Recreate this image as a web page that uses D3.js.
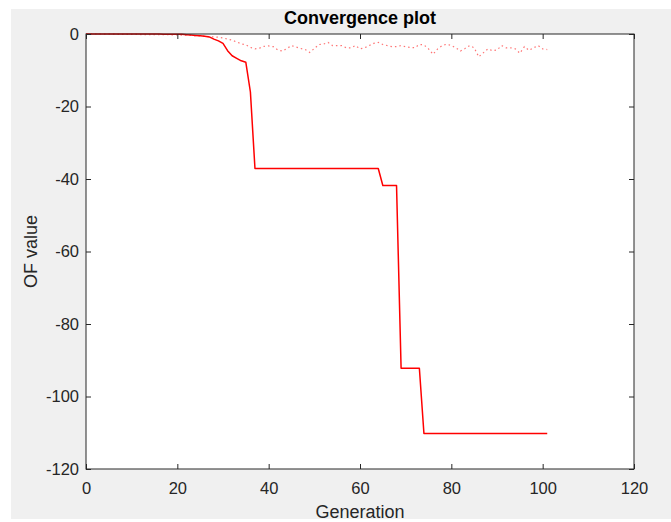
<!DOCTYPE html>
<html>
<head>
<meta charset="utf-8">
<script src="https://cdn.jsdelivr.net/npm/d3@7"></script>
<style>
  body { margin: 0; background: #fff; }
  svg { display: block; font-family: "Liberation Sans", Arial, Helvetica, sans-serif; }
  .tick text { fill: #262626; font-size: 16.5px; }
  .domain { stroke: none; }
  .tick line { stroke: #262626; }
</style>
</head>
<body>
<script>
// figure + axes placement (matlab-like)
var margin = {top: 34, right: 37, bottom: 53, left: 86},
    width = 671 - margin.left - margin.right,
    height = 522 - margin.top - margin.bottom;

// generations 0..101
var generations = d3.range(0, 102);

// best objective value per generation (solid)
var bestOF = [
  0, 0, 0, 0, 0, 0, 0, 0, 0, 0,
  0, 0, 0, 0, 0, 0, 0, -0.05, -0.05, -0.1,
  -0.1, -0.1, -0.2, -0.3, -0.4, -0.5, -0.6, -0.8, -1.4, -1.9,
  -2.6, -4.6, -6.0, -6.7, -7.4, -7.8, -16, -37.1, -37.1, -37.1,
  -37.1, -37.1, -37.1, -37.1, -37.1, -37.1, -37.1, -37.1, -37.1, -37.1,
  -37.1, -37.1, -37.1, -37.1, -37.1, -37.1, -37.1, -37.1, -37.1, -37.1,
  -37.1, -37.1, -37.1, -37.1, -37.1, -41.8, -41.8, -41.8, -41.8, -92.2,
  -92.2, -92.2, -92.2, -92.2, -110.2, -110.2, -110.2, -110.2, -110.2, -110.2,
  -110.2, -110.2, -110.2, -110.2, -110.2, -110.2, -110.2, -110.2, -110.2, -110.2,
  -110.2, -110.2, -110.2, -110.2, -110.2, -110.2, -110.2, -110.2, -110.2, -110.2,
  -110.2, -110.2
];

// mean objective value per generation (dotted)
var meanOF = [
  0, 0, 0, 0, -0.05, -0.05, -0.05, -0.1, -0.1, -0.1,
  -0.1, -0.1, -0.15, -0.15, -0.15, -0.2, -0.2, -0.2, -0.2, -0.25,
  -0.25, -0.3, -0.3, -0.4, -0.5, -0.5, -0.6, -0.7, -0.8, -0.9,
  -1.1, -1.4, -1.7, -2.2, -2.7, -3.0, -3.7, -4.1, -3.9, -3.4,
  -3.3, -3.5, -4.4, -4.7, -4.0, -3.2, -3.6, -4.0, -4.3, -5.1,
  -4.0, -2.9, -2.8, -2.3, -3.2, -3.2, -3.2, -3.8, -3.8, -3.2,
  -4.1, -3.8, -3.2, -2.6, -2.3, -2.9, -3.2, -3.5, -3.5, -3.2,
  -3.5, -3.7, -3.8, -2.9, -3.0, -4.1, -5.6, -4.1, -3.2, -2.8,
  -3.2, -3.8, -4.7, -4.0, -3.2, -3.8, -6.3, -5.2, -4.1, -4.6,
  -4.4, -3.2, -3.8, -3.8, -4.1, -5.3, -3.5, -4.5, -3.8, -3.2,
  -4.1, -4.3
];

var xTicks = [0, 20, 40, 60, 80, 100, 120];
var yTicks = [0, -20, -40, -60, -80, -100, -120];

// set the ranges
var x = d3.scaleLinear().domain([0, 120]).range([0, width]);
var y = d3.scaleLinear().domain([-120, 0]).range([height, 0]);

// plain hyphen minus, like matlab
var plainFormat = function(d) { return String(d); };

var svg = d3.select("body").append("svg")
    .attr("width", 671)
    .attr("height", 522);

// grey figure background
svg.append("rect")
    .attr("x", 11).attr("y", 9)
    .attr("width", 660).attr("height", 510)
    .attr("fill", "#f0f0f0");

var g = svg.append("g")
    .attr("transform", "translate(" + margin.left + "," + margin.top + ")");

// white axes area
g.append("rect")
    .attr("width", width).attr("height", height)
    .attr("fill", "#fff");

var ofLine = d3.line()
    .x(function(d, i) { return x(generations[i]); })
    .y(function(d) { return y(d); });

g.append("path")
    .datum(meanOF)
    .attr("fill", "none")
    .attr("stroke", "#ff0000")
    .attr("stroke-opacity", 0.55)
    .attr("stroke-width", 1.2)
    .attr("stroke-dasharray", "1.5,3")
    .attr("d", ofLine);

g.append("path")
    .datum(bestOF)
    .attr("fill", "none")
    .attr("stroke", "#ff0000")
    .attr("stroke-width", 1.5)
    .attr("stroke-linejoin", "round")
    .attr("d", ofLine);

// axes, ticks pointing inward
g.append("g")
    .attr("transform", "translate(0," + height + ")")
    .call(d3.axisBottom(x).tickValues(xTicks).tickFormat(plainFormat)
        .tickSizeInner(-5).tickSizeOuter(0).tickPadding(13));

g.append("g")
    .call(d3.axisLeft(y).tickValues(yTicks).tickFormat(plainFormat)
        .tickSizeInner(-5).tickSizeOuter(0).tickPadding(7));

g.append("g")
    .call(d3.axisTop(x).tickValues(xTicks).tickSizeInner(-5).tickSizeOuter(0).tickFormat(""));

g.append("g")
    .attr("transform", "translate(" + width + ",0)")
    .call(d3.axisRight(y).tickValues(yTicks).tickSizeInner(-5).tickSizeOuter(0).tickFormat(""));

// box
g.append("rect")
    .attr("width", width).attr("height", height)
    .attr("fill", "none")
    .attr("stroke", "#262626")
    .attr("stroke-width", 1);

// title
svg.append("text")
    .attr("x", margin.left + width / 2)
    .attr("y", 24)
    .attr("text-anchor", "middle")
    .style("font-size", "18px")
    .style("font-weight", "bold")
    .attr("fill", "#000")
    .text("Convergence plot");

// x label
svg.append("text")
    .attr("x", margin.left + width / 2)
    .attr("y", 518)
    .attr("text-anchor", "middle")
    .style("font-size", "18px")
    .attr("fill", "#262626")
    .text("Generation");

// y label
svg.append("text")
    .attr("transform", "translate(37," + (margin.top + height / 2) + ") rotate(-90)")
    .attr("text-anchor", "middle")
    .style("font-size", "18px")
    .attr("fill", "#262626")
    .text("OF value");
</script>
</body>
</html>
